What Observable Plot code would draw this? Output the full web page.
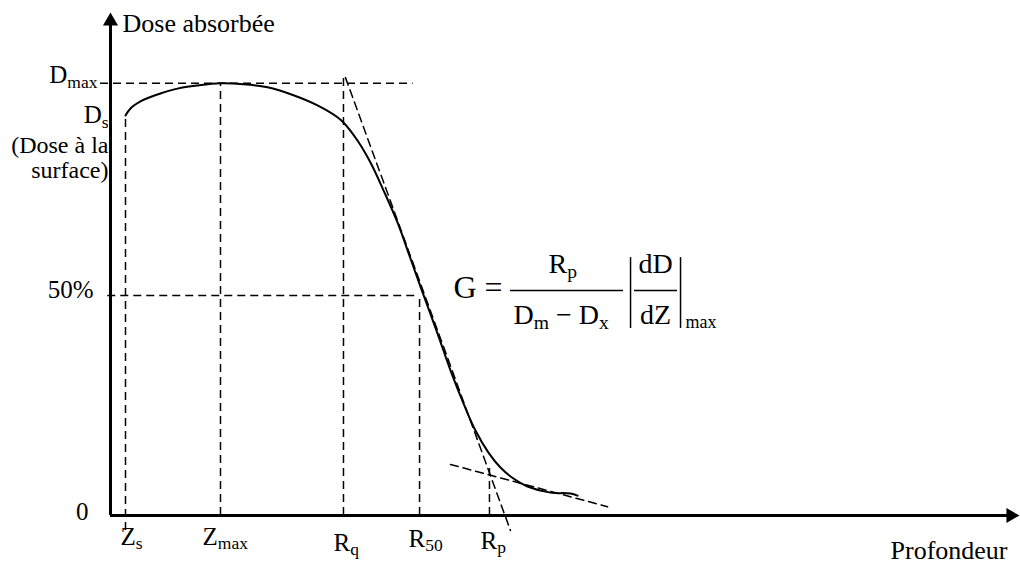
<!DOCTYPE html>
<html><head><meta charset="utf-8">
<script src="https://cdn.jsdelivr.net/npm/d3@7"></script>
<script src="https://cdn.jsdelivr.net/npm/@observablehq/plot@0.6"></script>
<style>body{margin:0;background:#fff;}</style>
</head><body><div id="chart"></div>
<script>
// ---- data (depth in arbitrary units, dose in arbitrary % units) ----
const depth = [1.65, 2.20, 3.30, 4.40, 5.50, 7.37, 9.57, 12.10, 14.63, 17.27, 20.13, 22.77, 24.97, 25.63, 27.17, 28.60, 30.03, 31.57, 33.00, 34.21, 35.97, 37.40, 38.83, 40.15, 41.58, 42.90, 44.33, 45.87, 48.40, 50.61, 51.38];
const dose  = [90.9, 92.5, 94.1, 95.1, 95.9, 97.0, 97.7, 98.2, 98.0, 97.3, 95.5, 93.2, 90.5, 89.3, 85.2, 80.2, 73.9, 66.6, 58.4, 51.4, 41.4, 33.0, 25.5, 19.3, 14.3, 10.9, 8.4, 6.6, 5.2, 5.0, 4.5];

const Zs = 1.65, Zmax = 12.10, Rq = 25.63, R50 = 34.0, Rp = 41.69;
const Ds = 90.9, Dmax = 98.2, D50 = 50;

const xTickValues = [Zs, Zmax, Rq, R50, Rp];
const xTickLabels = ["Z_{s}", "Z_{max}", "R_{q}", "R_{50}", "R_{p}"];
const yTickValues = [0, D50, Ds, Dmax];
const yTickLabels = ["0", "50%", "D_{s}", "D_{max}"];

const tangentSteepDepth = [25.85, 44.0];
const tangentSteepDose  = [99.5, -3.4];
const tangentTailDepth  = [37.40, 54.68];
const tangentTailDose   = [11.6, 2.0];

// ---- layout / style ----
const serif = "'Liberation Serif', 'Times New Roman', serif";
const dash = {stroke: "black", strokeWidth: 1.5, strokeDasharray: "8,5"};
const xTickOffsets = [[-5, 29], [-18, 29], [-10, 35], [-11, 31], [-9, 33]];
const yTickOffsets = [[-22, 4], [-17, 3], [-2, 8], [-13, 0]];
const yTop = 114.3;

const marks = [
  // dashed guides
  Plot.ruleY([Dmax], {x1: -1.1, x2: 33.3, ...dash}),
  Plot.ruleY([D50], {x1: -0.3, x2: R50, ...dash}),
  Plot.ruleX([Zs], {y1: -3.4, y2: Ds, ...dash}),
  Plot.ruleX([Zmax], {y1: 0, y2: Dmax, ...dash}),
  Plot.ruleX([Rq], {y1: 0, y2: 100, ...dash}),
  Plot.ruleX([R50], {y1: 0, y2: D50, ...dash}),
  Plot.ruleX([Rp], {y1: 0, y2: 11.4, ...dash}),
  Plot.line(tangentSteepDepth, {x: tangentSteepDepth, y: tangentSteepDose, ...dash}),
  Plot.line(tangentTailDepth, {x: tangentTailDepth, y: tangentTailDose, ...dash}),
  // depth dose curve
  Plot.line(depth, {x: depth, y: dose, curve: "catmull-rom", stroke: "black", strokeWidth: 2}),
  // axes
  Plot.ruleY([0], {x1: 0, x2: 99, stroke: "black", strokeWidth: 3}),
  Plot.ruleX([0], {y1: 0, y2: 112, stroke: "black", strokeWidth: 3}),
  Plot.dot([0], {x: 100, y: 0, symbol: "triangle", r: 5.6, fill: "black", stroke: "none", rotate: 90, dx: -8.7}),
  Plot.dot([0], {x: 0, y: yTop, symbol: "triangle", r: 5.6, fill: "black", stroke: "none", dy: 8.7}),
  // axis titles
  Plot.text(["Dose absorbée"], {x: 0, y: yTop, text: d => d, dx: 12, dy: 19, textAnchor: "start", lineAnchor: "bottom", fontSize: 26}),
  Plot.text(["Profondeur"], {x: 100, y: 0, text: d => d, dx: -12, dy: 43, textAnchor: "end", lineAnchor: "bottom", fontSize: 26}),
  Plot.text(["(Dose à la\nsurface)"], {x: 0, y: Ds, text: d => d, dx: -2, dy: 63, textAnchor: "end", lineAnchor: "bottom", lineHeight: 1.08, fontSize: 24}),
  // x tick labels
  ...xTickValues.map((v, i) => Plot.text([v], {x: d => d, y: 0, text: [xTickLabels[i]], dx: xTickOffsets[i][0], dy: xTickOffsets[i][1], textAnchor: "start", lineAnchor: "bottom", fontSize: 25})),
  // y tick labels
  ...yTickValues.map((v, i) => Plot.text([v], {x: 0, y: d => d, text: [yTickLabels[i]], dx: yTickOffsets[i][0], dy: yTickOffsets[i][1], textAnchor: "end", lineAnchor: "bottom", fontSize: 25})),
  // formula  G = Rp / (Dm - Dx) |dD/dZ|max
  Plot.text(["G ="], {x: 37.73, y: 49.5, text: d => d, textAnchor: "start", lineAnchor: "bottom", fontSize: 32}),
  Plot.text(["R_{p}"], {x: 48.18, y: 55.0, text: d => d, textAnchor: "start", lineAnchor: "bottom", fontSize: 28}),
  Plot.text(["D_{m} − D_{x}"], {x: 44.33, y: 43.6, text: d => d, textAnchor: "start", lineAnchor: "bottom", fontSize: 28}),
  Plot.ruleY([51.1], {x1: 44.0, x2: 56.44, stroke: "black", strokeWidth: 1.5}),
  Plot.ruleX([57.21], {y1: 42.5, y2: 58.6, stroke: "black", strokeWidth: 1.5}),
  Plot.ruleY([51.1], {x1: 57.65, x2: 62.38, stroke: "black", strokeWidth: 1.5}),
  Plot.text(["dD"], {x: 59.96, y: 55.0, text: d => d, textAnchor: "middle", lineAnchor: "bottom", fontSize: 28}),
  Plot.text(["dZ"], {x: 59.96, y: 43.6, text: d => d, textAnchor: "middle", lineAnchor: "bottom", fontSize: 28}),
  Plot.ruleX([62.71], {y1: 42.5, y2: 58.6, stroke: "black", strokeWidth: 1.5}),
  Plot.text(["max"], {x: 63.26, y: 42.5, text: d => d, textAnchor: "start", lineAnchor: "bottom", fontSize: 18})
];

const chart = Plot.plot({
  width: 1020, height: 567,
  marginLeft: 110, marginRight: 1, marginTop: 12, marginBottom: 52,
  x: {domain: [0, 100], axis: null},
  y: {domain: [0, yTop], axis: null},
  style: {fontFamily: serif, background: "white", color: "black", overflow: "visible"},
  marks
});
document.getElementById("chart").appendChild(chart);

// turn "X_{sub}" into real subscripts
const NS = "http://www.w3.org/2000/svg";
chart.querySelectorAll("text").forEach(t => {
  const s = t.textContent;
  if (!s.includes("_{")) return;
  const fs = parseFloat(getComputedStyle(t).fontSize) || 25;
  const drop = fs * 0.18;
  const parts = s.split(/(_\{[^}]*\})/).filter(Boolean);
  t.textContent = "";
  let shifted = false;
  for (const p of parts) {
    const ts = document.createElementNS(NS, "tspan");
    if (p.startsWith("_{")) {
      ts.textContent = p.slice(2, -1);
      ts.setAttribute("font-size", (fs * 0.7).toFixed(1));
      ts.setAttribute("dy", drop.toFixed(1));
      shifted = true;
    } else {
      ts.textContent = p;
      if (shifted) { ts.setAttribute("dy", (-drop).toFixed(1)); shifted = false; }
    }
    t.appendChild(ts);
  }
});
</script>
</body></html>
